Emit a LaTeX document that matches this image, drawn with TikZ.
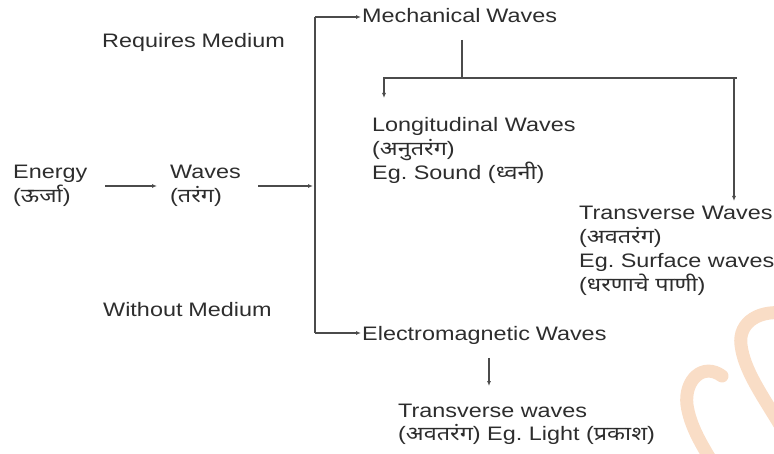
\documentclass[tikz,border=0pt]{standalone}
\usepackage{fontspec}
\setmainfont[FakeStretch=1.2,WordSpace=0.9]{Liberation Sans}
\newfontfamily\dev[Script=Devanagari,FakeStretch=1.2]{Noto Sans}
\usetikzlibrary{arrows.meta}
\definecolor{txt}{RGB}{45,45,45}
\definecolor{ln}{RGB}{75,75,75}
\definecolor{mark}{RGB}{249,221,198}
\tikzset{
  lbl/.style={anchor=base west, inner sep=0pt, text=txt, font=\fontsize{19.5}{24}\selectfont\frenchspacing},
  mlbl/.style={lbl, align=left, text width=#1},
  conn/.style={draw=ln, line width=1.1pt},
  arr/.style={conn, -{Latex[length=5pt,width=4pt]}},
  wm/.style={draw=mark, line width=13pt, line cap=round}
}
\begin{document}
\begin{tikzpicture}[x=1pt,y=-1pt]
\useasboundingbox (0,0) rectangle (774,454);
\begin{scope}
\clip (0,0) rectangle (774,454);
\draw[wm] (722,376) .. controls (703,362) and (684,380) .. (687,405) .. controls (690,425) and (700,442) .. (712,462);
\draw[wm] (790,314) .. controls (760,308) and (738,322) .. (741,345) .. controls (744,370) and (762,395) .. (780,425);
\end{scope}
% text nodes
\node[mlbl=100pt] (energy) at (13,179) {Energy\\({\dev ऊर्जा})};
\node[mlbl=100pt] (waves) at (170,179) {Waves\\({\dev तरंग})};
\node[lbl] (req) at (102,48) {Requires Medium};
\node[lbl] (without) at (103,317) {Without Medium};
\node[lbl] (mech) at (362,23) {Mechanical Waves};
\node[lbl] (em) at (362,341) {Electromagnetic Waves};
\node[mlbl=220pt] (long) at (372,132) {Longitudinal Waves\\({\dev अनुतरंग})\\Eg. Sound ({\dev ध्वनी})};
\node[mlbl=200pt] (trans) at (579,220) {Transverse Waves\\({\dev अवतरंग})\\Eg. Surface waves\\({\dev धरणाचे पाणी})};
\node[mlbl=300pt] (light) at (398,417) {Transverse waves\\({\dev अवतरंग}) Eg. Light ({\dev प्रकाश})};
% connector coordinates
\coordinate (e1) at (105,186);
\coordinate (w0) at (157,186);
\coordinate (w1) at (258,186);
\coordinate (sp) at (315,186);
\coordinate (spT) at (315,17);
\coordinate (spB) at (315,333);
\coordinate (mechIn) at (361,17);
\coordinate (emIn) at (361,333);
\coordinate (mStem) at (462,40);
\coordinate (mJoin) at (462,78);
\coordinate (bL) at (384,78);
\coordinate (bR) at (734,78);
\coordinate (longIn) at (384,98);
\coordinate (transIn) at (734,201);
\coordinate (emOut) at (489,358);
\coordinate (lightIn) at (489,386);
% connectors
\draw[arr] (e1) -- (w0);
\draw[arr] (w1) -- ([xshift=-2pt]sp);
\draw[conn] (spT) -- (spB);
\draw[arr] (spT) -- (mechIn);
\draw[arr] (spB) -- (emIn);
\draw[conn] (mStem) -- (mJoin);
\draw[conn] ([xshift=-1pt]bL) -- ([xshift=3pt]bR);
\draw[arr] (bL) -- (longIn);
\draw[arr] (bR) -- (transIn);
\draw[arr] (emOut) -- (lightIn);
\end{tikzpicture}
\end{document}
